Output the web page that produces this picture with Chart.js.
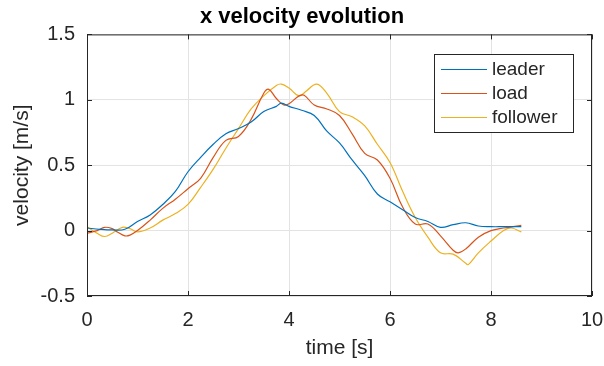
<!DOCTYPE html>
<html lang="en">
<head>
    <meta charset="UTF-8">
    <title>x velocity evolution</title>
    <script src="https://cdn.jsdelivr.net/npm/chart.js"></script>
    <style>
        body { margin: 0; background: #ffffff; }
        #wrap { width: 604px; height: 366px; }
    </style>
</head>
<body>
    <div id="wrap"><canvas id="myChart" width="604" height="366"></canvas></div>
    <script>
        // values
        const leaderTime = [0, 0.25, 0.5, 0.75, 1.0, 1.25, 1.5, 1.75, 2.0, 2.25, 2.5, 2.75, 3.0, 3.25, 3.5, 3.75, 3.85, 4.0, 4.25, 4.5, 4.75, 5.0, 5.25, 5.5, 5.75, 6.0, 6.25, 6.5, 6.75, 7.0, 7.25, 7.5, 7.75, 8.0, 8.25, 8.6];
        const leaderVel = [0.02, 0.01, 0.005, 0.01, 0.07, 0.12, 0.2, 0.3, 0.45, 0.56, 0.66, 0.74, 0.78, 0.83, 0.91, 0.95, 0.975, 0.95, 0.92, 0.88, 0.76, 0.67, 0.54, 0.42, 0.28, 0.22, 0.16, 0.1, 0.07, 0.025, 0.045, 0.06, 0.035, 0.03, 0.03, 0.03];

        const loadTime = [0, 0.2, 0.35, 0.5, 0.6, 0.75, 0.85, 1.0, 1.25, 1.5, 1.75, 2.0, 2.25, 2.5, 2.75, 3.0, 3.25, 3.5, 3.6, 3.75, 3.9, 4.0, 4.2, 4.3, 4.5, 4.75, 5.0, 5.25, 5.5, 5.75, 6.0, 6.25, 6.5, 6.75, 7.0, 7.25, 7.35, 7.5, 7.75, 8.0, 8.25, 8.6];
        const loadVel = [-0.02, 0.0, 0.025, 0.015, -0.01, -0.04, -0.035, 0.0, 0.08, 0.17, 0.24, 0.32, 0.4, 0.56, 0.69, 0.72, 0.85, 1.05, 1.08, 1.01, 0.96, 0.97, 1.03, 1.035, 0.96, 0.93, 0.88, 0.74, 0.59, 0.54, 0.4, 0.18, 0.05, 0.05, -0.04, -0.15, -0.17, -0.14, -0.05, 0.0, 0.02, 0.04];

        const followerTime = [0, 0.2, 0.35, 0.5, 0.7, 0.85, 1.0, 1.25, 1.5, 1.75, 2.0, 2.25, 2.5, 2.75, 3.0, 3.25, 3.5, 3.75, 3.85, 4.0, 4.2, 4.35, 4.55, 4.75, 5.0, 5.25, 5.5, 5.75, 6.0, 6.25, 6.5, 6.75, 7.0, 7.25, 7.5, 7.55, 7.75, 8.0, 8.25, 8.4, 8.6];
        const followerVel = [0.03, -0.02, -0.045, -0.02, 0.025, 0.015, -0.01, 0.02, 0.08, 0.13, 0.2, 0.33, 0.47, 0.63, 0.78, 0.93, 1.03, 1.11, 1.12, 1.09, 1.03, 1.07, 1.12, 1.05, 0.91, 0.87, 0.8, 0.66, 0.52, 0.3, 0.1, -0.05, -0.17, -0.18, -0.25, -0.26, -0.17, -0.08, 0.0, 0.02, -0.01];

        const xTicks = [0, 2, 4, 6, 8, 10];
        const yTicks = [-0.5, 0, 0.5, 1, 1.5];
        const seriesNames = ['leader', 'load', 'follower'];
        const seriesColors = ['#0072BD', '#D95319', '#EDB120'];

        const fontFamily = '"Liberation Sans", Arial, sans-serif';
        const toPoints = (t, v) => t.map((x, i) => ({ x: x, y: v[i] }));

        // MATLAB style box, inward ticks and legend inside the axes
        const axesBox = {
            id: 'axesBox',
            afterDraw(chart) {
                const { ctx, chartArea: a, scales } = chart;
                ctx.save();
                ctx.strokeStyle = '#262626';
                ctx.lineWidth = 1;
                ctx.strokeRect(a.left + 0.5, a.top + 0.5, a.right - a.left - 1, a.bottom - a.top - 1);
                ctx.beginPath();
                xTicks.forEach(v => {
                    const px = Math.round(scales.x.getPixelForValue(v)) + 0.5;
                    ctx.moveTo(px, a.bottom); ctx.lineTo(px, a.bottom - 5);
                    ctx.moveTo(px, a.top); ctx.lineTo(px, a.top + 5);
                });
                yTicks.forEach(v => {
                    const py = Math.round(scales.y.getPixelForValue(v)) + 0.5;
                    ctx.moveTo(a.left, py); ctx.lineTo(a.left + 5, py);
                    ctx.moveTo(a.right, py); ctx.lineTo(a.right - 5, py);
                });
                ctx.stroke();

                // legend
                const lx = 434, ly = 54, lw = 139, lh = 78;
                ctx.fillStyle = '#ffffff';
                ctx.fillRect(lx, ly, lw, lh);
                ctx.strokeRect(lx + 0.5, ly + 0.5, lw, lh);
                ctx.font = '19px ' + fontFamily;
                ctx.textBaseline = 'middle';
                seriesNames.forEach((name, i) => {
                    const y = ly + 15 + i * 24;
                    ctx.strokeStyle = seriesColors[i];
                    ctx.beginPath();
                    ctx.moveTo(lx + 7, y + 0.5); ctx.lineTo(lx + 53, y + 0.5);
                    ctx.stroke();
                    ctx.fillStyle = '#262626';
                    ctx.fillText(name, lx + 58, y + 1);
                });
                ctx.restore();
            }
        };

        const ctx = document.getElementById('myChart').getContext('2d');
        new Chart(ctx, {
            type: 'line',
            data: {
                datasets: [
                    { label: seriesNames[0], data: toPoints(leaderTime, leaderVel), borderColor: seriesColors[0] },
                    { label: seriesNames[1], data: toPoints(loadTime, loadVel), borderColor: seriesColors[1] },
                    { label: seriesNames[2], data: toPoints(followerTime, followerVel), borderColor: seriesColors[2] }
                ]
            },
            options: {
                responsive: false,
                animation: false,
                layout: { padding: { top: 0, right: 0, bottom: 0, left: 0 } },
                elements: {
                    line: { borderWidth: 1.2, tension: 0.4, fill: false },
                    point: { radius: 0 }
                },
                plugins: {
                    legend: { display: false },
                    tooltip: { enabled: false },
                    title: {
                        display: true,
                        text: 'x velocity evolution',
                        color: '#000000',
                        font: { family: fontFamily, size: 22, weight: 'bold', lineHeight: 1.2 },
                        padding: { top: 4, bottom: 4 }
                    }
                },
                scales: {
                    x: {
                        type: 'linear',
                        min: 0, max: 10,
                        afterBuildTicks: s => { s.ticks = xTicks.map(v => ({ value: v })); },
                        afterFit: s => { s.height = 70; s.paddingRight = 12; s.paddingLeft = 0; },
                        grid: { color: '#e3e3e3', drawTicks: false },
                        border: { display: false },
                        ticks: {
                            color: '#262626', padding: 12, maxRotation: 0,
                            font: { family: fontFamily, size: 20 }
                        },
                        title: {
                            display: true, text: 'time [s]', color: '#262626',
                            font: { family: fontFamily, size: 21 },
                            padding: { top: 0, bottom: 5 }
                        }
                    },
                    y: {
                        type: 'linear',
                        min: -0.5, max: 1.5,
                        afterBuildTicks: s => { s.ticks = yTicks.map(v => ({ value: v })); },
                        afterFit: s => { s.width = 87; },
                        grid: { color: '#e3e3e3', drawTicks: false },
                        border: { display: false },
                        ticks: {
                            color: '#262626', padding: 12,
                            font: { family: fontFamily, size: 20 },
                            callback: v => String(v)
                        },
                        title: {
                            display: true, text: 'velocity [m/s]', color: '#262626',
                            font: { family: fontFamily, size: 21 },
                            padding: { top: 10, bottom: 0 }
                        }
                    }
                }
            },
            plugins: [axesBox]
        });
    </script>
</body>
</html>
